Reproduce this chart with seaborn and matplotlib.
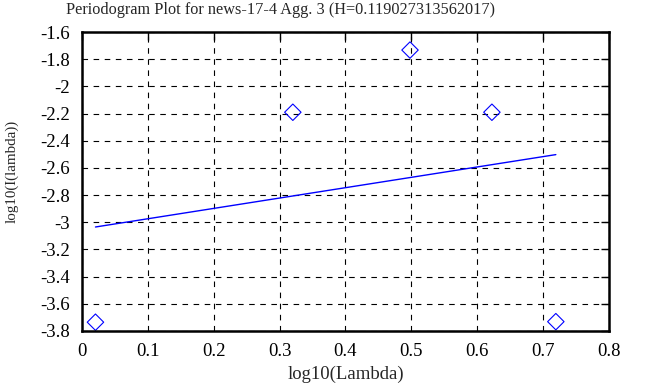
import numpy as np
import pandas as pd
import seaborn as sns
import matplotlib
matplotlib.use("Agg")
import matplotlib.pyplot as plt
from matplotlib.ticker import FormatStrFormatter, MultipleLocator

# Periodogram points (log10 lambda vs log10 I(lambda))
log_lambda = [0.0202, 0.3200, 0.4980, 0.6224, 0.7195]
log_i = [-3.736, -2.190, -1.732, -2.190, -3.732]

# fitted line endpoints
fit_x = [0.0202, 0.7195]
fit_y = [-3.035, -2.502]

title = "Periodogram Plot for news-17-4 Agg. 3 (H=0.119027313562017)"

sns.set_style("white")
plt.rcParams['font.family'] = ['Liberation Serif', 'DejaVu Serif']
plt.rcParams['axes.unicode_minus'] = False

df = pd.DataFrame({'x': log_lambda, 'y': log_i})
fit = pd.DataFrame({'x': fit_x, 'y': fit_y})

fig, ax = plt.subplots(figsize=(6.47, 3.87), dpi=100)
fig.subplots_adjust(left=0.127, right=0.941, top=0.917, bottom=0.145)

sns.lineplot(data=fit, x='x', y='y', color='blue', linewidth=1, ax=ax)
sns.scatterplot(data=df, x='x', y='y', marker='D', s=70, facecolor='none',
                edgecolor='blue', linewidth=0.8, ax=ax)

ax.set_xlim(0, 0.8)
ax.set_ylim(-3.8, -1.6)
ax.xaxis.set_major_locator(MultipleLocator(0.1))
ax.yaxis.set_major_locator(MultipleLocator(0.2))
ax.xaxis.set_major_formatter(FormatStrFormatter('%g'))
ax.yaxis.set_major_formatter(FormatStrFormatter('%g'))
ax.grid(True, color='black', linestyle=(0, (5, 5)), linewidth=0.8)
ax.tick_params(direction='in', length=6, width=1, top=True, right=True,
               labelsize=13.5, colors='black')
ax.tick_params(axis='x', pad=9)
ax.tick_params(axis='y', pad=9)
for s in ax.spines.values():
    s.set_color('black')
    s.set_linewidth(1.8)

fig.text(280 / 647, 1 - 10 / 387, title, fontsize=11.7, ha='center', va='center')
ax.set_xlabel('log10(Lambda)', fontsize=13.5)
ax.set_ylabel('log10(I(lambda))', fontsize=10.8)
ax.xaxis.set_label_coords((346 - 82) / 527, -(374 - 331) / 299)
ax.yaxis.set_label_coords(-(82 - 12) / 527, (331 - 171) / 299)
ax.xaxis.label.set_va('center')
ax.yaxis.label.set_va('center')

fig.savefig('out.png', dpi=100)
